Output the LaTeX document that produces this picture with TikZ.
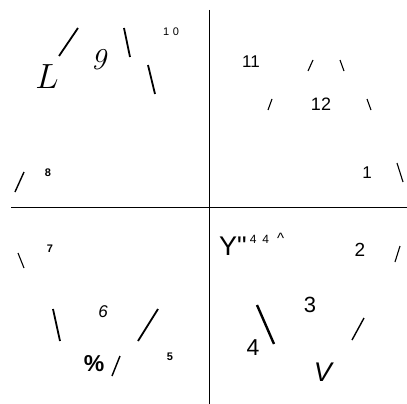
\documentclass[tikz,border=0pt]{standalone}
\usepackage{fix-cm}
\usepackage{fontspec}
\setsansfont{Liberation Sans}
\newfontfamily\vecchiecifre{Latin Modern Roman}[Numbers=OldStyle]
\tikzset{
    cifra/.style={font=\sffamily\fontsize{#1}{#1}\selectfont, inner sep=0pt},
    cifrab/.style={font=\sffamily\bfseries\fontsize{#1}{#1}\selectfont, inner sep=0pt},
    cifrai/.style={font=\sffamily\itshape\fontsize{#1}{#1}\selectfont, inner sep=0pt},
    serif/.style={font=\fontsize{#1}{#1}\selectfont, inner sep=0pt},
    tratto/.style={line width=#1, black},
    tratto/.default=1.1pt,
    asse/.style={line width=1pt, black},
}

\begin{document}
\begin{tikzpicture}[x=1pt, y=-1pt]
    \useasboundingbox (0,0) rectangle (407,404);

    % Assi
    \draw[asse] (209,10) -- (209,404);
    \draw[asse] (11,207) -- (407,207);

    % Quadrante in alto a sinistra
    \node[serif=35] (elle) at (47,77) {$L$};
    \node[serif=30] (nove) at (100,60) {\vecchiecifre\itshape 9};
    \node[cifra=11] (dieci) at (171,32) {1\,\,0};
    \node[cifrab=11] (otto) at (48,173) {8};
    \draw[tratto=1.8pt] (59,56) -- (78,28);
    \draw[tratto=1.8pt] (124,28) -- (130,57);
    \draw[tratto=1.8pt] (148,65) -- (155,94);
    \draw[tratto=1.4pt] (15,192) -- (24,172);

    % Quadrante in alto a destra
    \node[cifra=17] (undici) at (251,62) {11};
    \node[cifra=18] (dodici) at (321,104) {12};
    \node[cifra=17] (uno) at (367,173) {1};
    \draw[tratto] (308,71) -- (313,60);
    \draw[tratto] (340,60) -- (344,71);
    \draw[tratto] (268,110) -- (272,99);
    \draw[tratto] (367,99) -- (371,110);
    \draw[tratto] (397,163) -- (403,182);

    % Quadrante in basso a sinistra
    \node[cifrab=11] (sette) at (50,249) {7};
    \node[cifrai=17] (sei) at (103,312) {6};
    \node[cifrab=23] (perc) at (94,364) {\%};
    \node[cifrab=11] (cinque) at (170,357) {5};
    \draw[tratto] (18,253) -- (24,268);
    \draw[tratto=1.8pt] (53,309) -- (60,341);
    \draw[tratto=1.8pt] (138,341) -- (158,309);
    \draw[tratto=1.4pt] (112,376) -- (120,356);

    % Quadrante in basso a destra
    \node[cifra=27, anchor=base west] (ipsilon) at (219,255)
        {Y\textquotedbl\hspace{3pt}\raisebox{0.42em}{\fontsize{12}{12}\selectfont 4\hspace{6pt}4\hspace{8pt}{\fontsize{15}{15}\selectfont\textasciicircum}}};
    \node[cifra=19] (due) at (360,250) {2};
    \node[cifra=22] (tre) at (310,305) {3};
    \node[cifra=23] (quattro) at (253,348) {4};
    \node[cifrai=27] (vu) at (323,372) {V};
    \draw[tratto] (395,262) -- (400,246);
    \draw[tratto=2.4pt] (257,305) -- (274,344);
    \draw[tratto=1.4pt] (352,340) -- (364,318);
\end{tikzpicture}
\end{document}
